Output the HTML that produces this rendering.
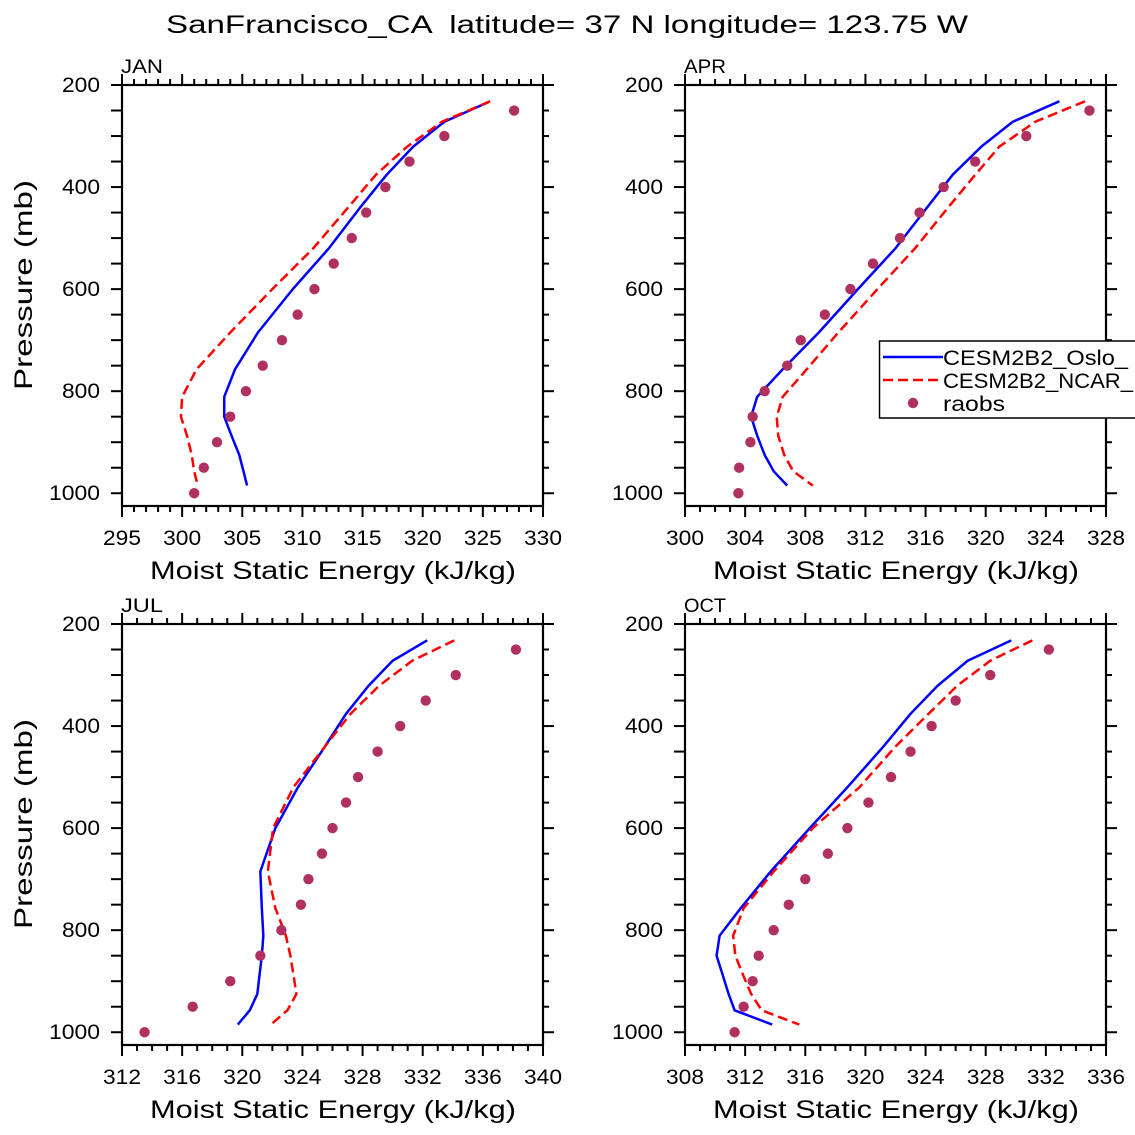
<!DOCTYPE html>
<html><head><meta charset="utf-8"><style>
html,body{margin:0;padding:0;background:#fff;}
svg{display:block;font-family:"Liberation Sans","DejaVu Sans",sans-serif;}
</style></head><body>
<svg id="fig" width="1135" height="1135" viewBox="0 0 1135 1135" xmlns="http://www.w3.org/2000/svg">
<rect width="1135" height="1135" fill="#fff"/>
<text x="166" y="33" font-size="25" textLength="802" lengthAdjust="spacingAndGlyphs" fill="#000" xml:space="preserve" style="white-space:pre">SanFrancisco_CA  latitude= 37 N longitude= 123.75 W</text>
</svg>
<script>
const levels = [232,272,321,376,440,520,600,685,757,811,850,887,925,957,985];
const raobLevels = [250,300,350,400,450,500,550,600,650,700,750,800,850,900,950,1000];
const panelNames = ["JAN","APR","JUL","OCT"];
const osloJAN = [325.6,321.8,319.2,317.0,314.8,312.2,309.2,306.3,304.4,303.5,303.5,304.1,304.75,305.1,305.4];
const ncarJAN = [325.6,321.6,318.7,316.1,313.8,310.9,307.5,304.0,301.2,300.0,299.9,300.4,300.8,301.0,301.3];
const raobsJAN = [327.6,321.8,318.9,316.9,315.3,314.1,312.6,311.0,309.6,308.3,306.7,305.3,304.0,302.9,301.8,301.0];
const osloAPR = [324.9,321.8,319.7,317.8,316.1,314.0,311.5,308.9,306.5,304.8,304.4,304.8,305.3,305.9,306.8];
const ncarAPR = [326.6,323.3,320.9,319.3,317.5,315.3,312.8,310.2,308.1,306.5,306.1,306.2,306.6,307.2,308.5];
const raobsAPR = [326.9,322.7,319.3,317.2,315.6,314.3,312.5,311.0,309.3,307.7,306.8,305.3,304.5,304.35,303.6,303.55];
const osloJUL = [332.3,330.0,328.4,326.9,325.5,323.7,322.2,321.2,321.3,321.4,321.3,321.15,321.0,320.5,319.7];
const ncarJUL = [334.1,331.3,329.1,327.2,325.5,323.4,322.05,321.7,322.2,322.9,323.2,323.4,323.6,323.0,321.9];
const raobsJUL = [338.2,334.2,332.2,330.5,329.0,327.7,326.9,326.0,325.3,324.4,323.9,322.6,321.2,319.2,316.7,313.5];
const osloOCT = [329.7,326.8,324.8,323.0,321.2,318.8,316.3,313.7,311.7,310.3,310.1,310.5,310.9,311.3,313.8];
const ncarOCT = [331.1,328.3,326.1,324.2,322.0,319.6,316.5,313.9,311.9,311.2,311.35,311.85,312.4,313.1,315.6];
const raobsOCT = [332.2,328.3,326.0,324.4,323.0,321.7,320.2,318.8,317.5,316.0,314.9,313.9,312.9,312.5,311.9,311.3];
const xMin = [295,300,312,308];
const xMax = [330,328,340,336];
const xStep = [5,4,4,4];
const yTicks = [200,400,600,800,1000];
const legendLabels = ["CESM2B2_Oslo_","CESM2B2_NCAR_","raobs"];

const NS="http://www.w3.org/2000/svg";
const svg=document.getElementById('fig');
function mk(tag,attrs,parent){const e=document.createElementNS(NS,tag);for(const k in attrs)e.setAttribute(k,attrs[k]);(parent||svg).appendChild(e);return e;}
const oslo=[osloJAN,osloAPR,osloJUL,osloOCT], ncar=[ncarJAN,ncarAPR,ncarJUL,ncarOCT], raobs=[raobsJAN,raobsAPR,raobsJUL,raobsOCT];
const boxes=[[122,85],[685,85],[122,624],[685,624]];
const W=421,H=421,PMIN=200,PMAX=1025;
const LA='spacingAndGlyphs';
for(let i=0;i<4;i++){
  const [L,T]=boxes[i];
  const g=mk('g',{});
  
  
  const xs=v=>L+(v-xMin[i])/(xMax[i]-xMin[i])*W;
  const ys=p=>T+(p-PMIN)/(PMAX-PMIN)*H;
  const lab=mk('text',{x:L-1,y:T-12,'font-size':19,fill:'#000',textLength:42,lengthAdjust:LA},g);lab.textContent=panelNames[i];
  
  for(let v=xMin[i];v<=xMax[i]+1e-9;v+=1){
    const major=Math.abs(((v-xMin[i])%xStep[i]))<1e-9;const len=major?11:6;const x=xs(v);
    mk('line',{x1:x,x2:x,y1:T,y2:T-len,stroke:'#000','stroke-width':2},g);
    mk('line',{x1:x,x2:x,y1:T+H,y2:T+H+len,stroke:'#000','stroke-width':2},g);
    if(major){const t=mk('text',{x:x,y:T+H+39,'font-size':21,'text-anchor':'middle',fill:'#000',textLength:38,lengthAdjust:LA},g);t.textContent=v;
      }
  }
  for(let p=200;p<=1000;p+=50){
    const major=p%200===0;const y=ys(p);
    mk('line',{x1:L-11,x2:L,y1:y,y2:y,stroke:'#000','stroke-width':2},g);
    mk('line',{x1:L+W,x2:L+W+(major?11:6),y1:y,y2:y,stroke:'#000','stroke-width':2},g);
  }
  yTicks.forEach(p=>{const s=String(p);const t=mk('text',{x:L-22-(s.length===4?51:38),y:ys(p)+7,'font-size':21,fill:'#000',textLength:(s.length===4?51:38),lengthAdjust:LA},g);t.textContent=s;
    });
  mk('rect',{x:L,y:T,width:W,height:H,fill:'none',stroke:'#000','stroke-width':2.2},g);
  const xt=mk('text',{x:L+28,y:T+H+73,'font-size':25,fill:'#000',textLength:366,lengthAdjust:LA},g);xt.textContent='Moist Static Energy (kJ/kg)';
  
  if(i%2===0){const yt=mk('text',{x:0,y:0,'font-size':25,'text-anchor':'middle',fill:'#000',textLength:210,lengthAdjust:LA,transform:`translate(32,${T+200}) rotate(-90)`},g);yt.textContent='Pressure (mb)';
    }
  const pl1=mk('polyline',{points:levels.map((p,k)=>xs(oslo[i][k])+','+ys(p)).join(' '),fill:'none',stroke:'#0000ff','stroke-width':2.5,'stroke-linejoin':'round'},g);
  
  const pl2=mk('polyline',{points:levels.map((p,k)=>xs(ncar[i][k])+','+ys(p)).join(' '),fill:'none',stroke:'#ff0000','stroke-width':2.5,'stroke-dasharray':'10,5'},g);
  
  raobLevels.forEach((p,k)=>{const c=mk('circle',{cx:xs(raobs[i][k]),cy:ys(p),r:5.2,fill:'#b03060'},g);
    });
}
const lg=mk('g',{});


mk('rect',{x:879.5,y:341,width:270,height:77,fill:'#fff',stroke:'#000','stroke-width':1.5},lg);
mk('line',{x1:883,x2:943,y1:357,y2:357,stroke:'#0000ff','stroke-width':2.5},lg);
mk('line',{x1:883,x2:943,y1:380,y2:380,stroke:'#ff0000','stroke-width':2.5,'stroke-dasharray':'10,5'},lg);
mk('circle',{cx:913,cy:403,r:5.2,fill:'#b03060'},lg);
const legLen=[185,190,62];
legendLabels.forEach((s,k)=>{const t=mk('text',{x:943,y:365+k*23,'font-size':21,fill:'#000',textLength:legLen[k],lengthAdjust:LA},lg);t.textContent=s;
  });
</script>
</body></html>
